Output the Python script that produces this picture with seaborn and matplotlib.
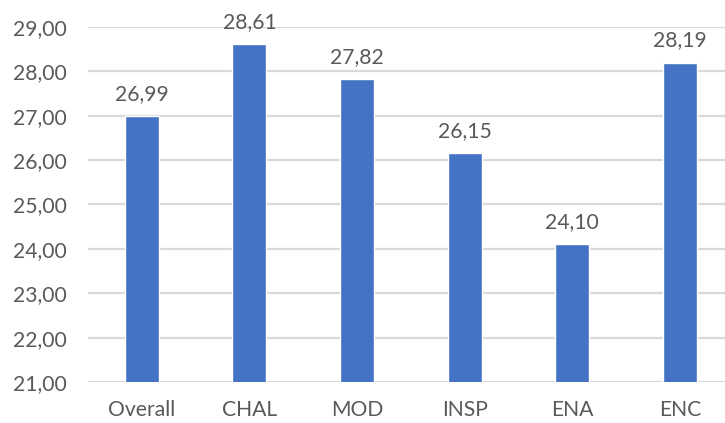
import matplotlib
matplotlib.use("Agg")
import matplotlib.pyplot as plt
import seaborn as sns
import pandas as pd
from matplotlib.ticker import FuncFormatter

categories = ["Overall", "CHAL", "MOD", "INSP", "ENA", "ENC"]
values = [26.99, 28.61, 27.82, 26.15, 24.10, 28.19]
y_ticks = [21, 22, 23, 24, 25, 26, 27, 28, 29]

sns.set_theme(style="white")
plt.rcParams["font.family"] = ["Lato", "DejaVu Sans"]

TEXT = "#595959"
BAR = "#4472C4"
GRID = "#D9D9D9"

df = pd.DataFrame({"cat": categories, "val": values})

fig = plt.figure(figsize=(7.25, 4.23), dpi=100)
ax = fig.add_axes([88 / 725, 1 - 382 / 423, (725 - 88) / 725, (382 - 27) / 423])

sns.barplot(data=df, x="cat", y="val", color=BAR, width=0.316, saturation=1,
            ax=ax, zorder=3)

ax.set_ylim(21, 29)
ax.set_xlim(-0.5, (725 - 88) / 107.6 - 0.5)
ax.set_yticks(y_ticks)
ax.yaxis.set_major_formatter(FuncFormatter(lambda v, p: f"{v:.2f}".replace(".", ",")))
ax.grid(axis="y", color=GRID, linewidth=1.6, zorder=0)
ax.set_axisbelow(True)
for s in ax.spines.values():
    s.set_visible(False)
ax.tick_params(axis="both", length=0, labelsize=15.2, colors=TEXT)
ax.tick_params(axis="y", pad=15)
ax.tick_params(axis="x", pad=13)
ax.set_xlabel("")
ax.set_ylabel("")

for i, v in enumerate(values):
    ax.annotate(f"{v:.2f}".replace(".", ","), (i, v), xytext=(0, 9),
                textcoords="offset points", ha="center", va="bottom",
                fontsize=15.2, color=TEXT)

fig.savefig("out.png", dpi=100)
